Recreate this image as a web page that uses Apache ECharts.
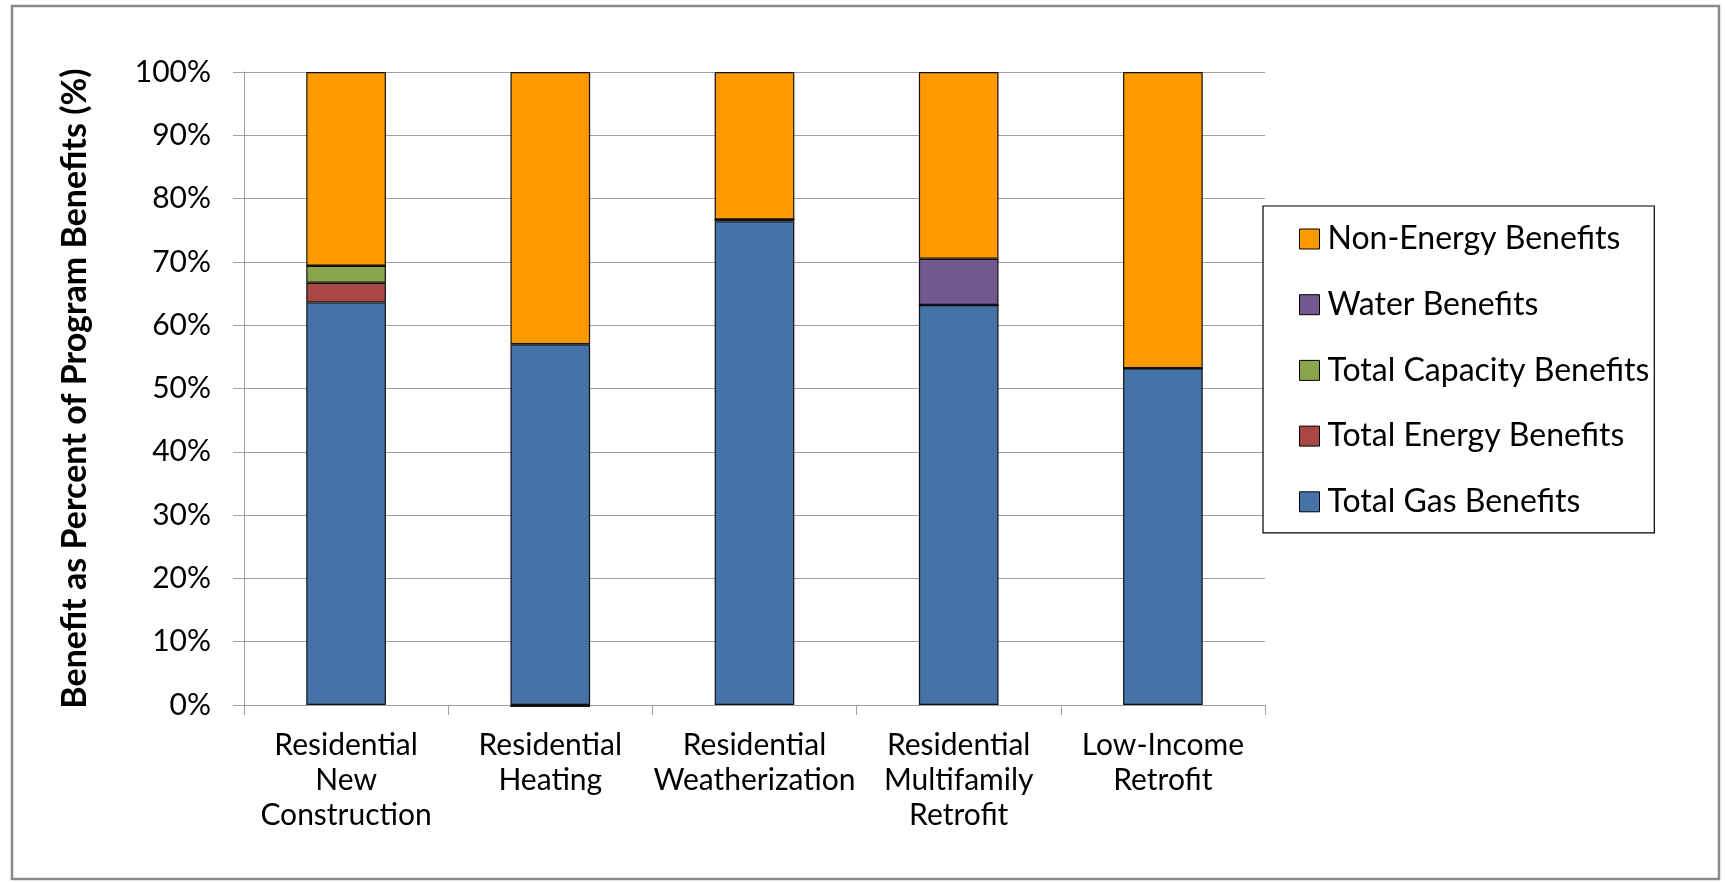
<!DOCTYPE html>
<html>
<head>
<meta charset="utf-8">
<script src="https://cdn.jsdelivr.net/npm/echarts@6/dist/echarts.min.js"></script>
<style>
  html, body { margin: 0; padding: 0; background: #fff; }
  #chart { width: 1725px; height: 882px; }
</style>
</head>
<body>
<div id="chart"></div>
<script>
// Program categories (x axis)
const categories = [
  'Residential\nNew\nConstruction',
  'Residential\nHeating',
  'Residential\nWeatherization',
  'Residential\nMultifamily\nRetrofit',
  'Low-Income\nRetrofit'
];

// Share of program benefits by benefit type (%)
const gasBenefits       = [63.6, 57.0, 76.4, 63.2, 53.2];
const energyBenefits    = [3.1, -0.2, 0.3, 0.0, 0.0];
const capacityBenefits  = [2.7, 0.0, 0.0, 0.0, 0.0];
const waterBenefits     = [0.0, 0.0, 0.0, 7.3, 0.0];
const nonEnergyBenefits = [30.6, 43.0, 23.3, 29.5, 46.8];

const yTicks = [0, 10, 20, 30, 40, 50, 60, 70, 80, 90, 100];

const FONT = 'Lato, "Liberation Sans", sans-serif';

const seriesDefs = [
  { name: 'Total Gas Benefits',      data: gasBenefits,       color: '#4572A7' },
  { name: 'Total Energy Benefits',   data: energyBenefits,    color: '#AA4643' },
  { name: 'Total Capacity Benefits', data: capacityBenefits,  color: '#89A54E' },
  { name: 'Water Benefits',          data: waterBenefits,     color: '#71588F' },
  { name: 'Non-Energy Benefits',     data: nonEnergyBenefits, color: '#FF9900' }
];

const chart = echarts.init(document.getElementById('chart'), null, { renderer: 'canvas' });

chart.setOption({
  animation: false,
  backgroundColor: '#ffffff',
  textStyle: { fontFamily: FONT, color: '#000' },
  graphic: [{
    type: 'rect',
    shape: { x: 12, y: 6, width: 1707, height: 873 },
    style: { fill: 'none', stroke: '#8a8a8a', lineWidth: 2.5 },
    silent: true
  }],
  grid: { left: 244, top: 72, right: 460, bottom: 177, containLabel: false },
  legend: {
    orient: 'vertical',
    left: 1263,
    top: 206,
    data: seriesDefs.map(s => s.name).reverse(),
    itemWidth: 20,
    itemHeight: 20,
    itemGap: 33.7,
    padding: [17, 5, 15, 36],
    borderColor: '#000',
    borderWidth: 1.2,
    backgroundColor: '#fff',
    icon: 'rect',
    itemStyle: { borderColor: '#000', borderWidth: 1 },
    textStyle: { fontFamily: FONT, fontSize: 32, lineHeight: 32, color: '#000', padding: [0, 0, 0, 3] }
  },
  xAxis: {
    type: 'category',
    data: categories,
    axisLine: { show: true, lineStyle: { color: '#a0a0a0', width: 1 } },
    axisTick: { show: true, alignWithLabel: false, length: 10, lineStyle: { color: '#a0a0a0' } },
    axisLabel: {
      interval: 0, margin: 23,
      fontFamily: FONT, fontSize: 30, lineHeight: 35, color: '#000', align: 'center'
    }
  },
  yAxis: {
    type: 'value',
    min: 0, max: 100, interval: 10,
    name: 'Benefit as Percent of Program Benefits (%)',
    nameLocation: 'middle',
    nameGap: 152,
    nameRotate: 90,
    nameTextStyle: { fontFamily: FONT, fontSize: 34, fontWeight: 'bold', color: '#000' },
    axisLine: { show: true, lineStyle: { color: '#a0a0a0', width: 1 } },
    axisTick: { show: true, length: 11, lineStyle: { color: '#a0a0a0' } },
    splitLine: { show: true, lineStyle: { color: '#a0a0a0', width: 1 } },
    axisLabel: {
      margin: 33, fontFamily: FONT, fontSize: 30, color: '#000',
      customValues: yTicks,
      formatter: v => v + '%'
    }
  },
  series: seriesDefs.map(s => ({
    name: s.name,
    type: 'bar',
    stack: 'benefits',
    data: s.data,
    barCategoryGap: '61%',
    clip: false,
    itemStyle: { color: s.color, borderColor: '#111', borderWidth: 1.2 },
    emphasis: { disabled: true }
  }))
});
</script>
</body>
</html>
